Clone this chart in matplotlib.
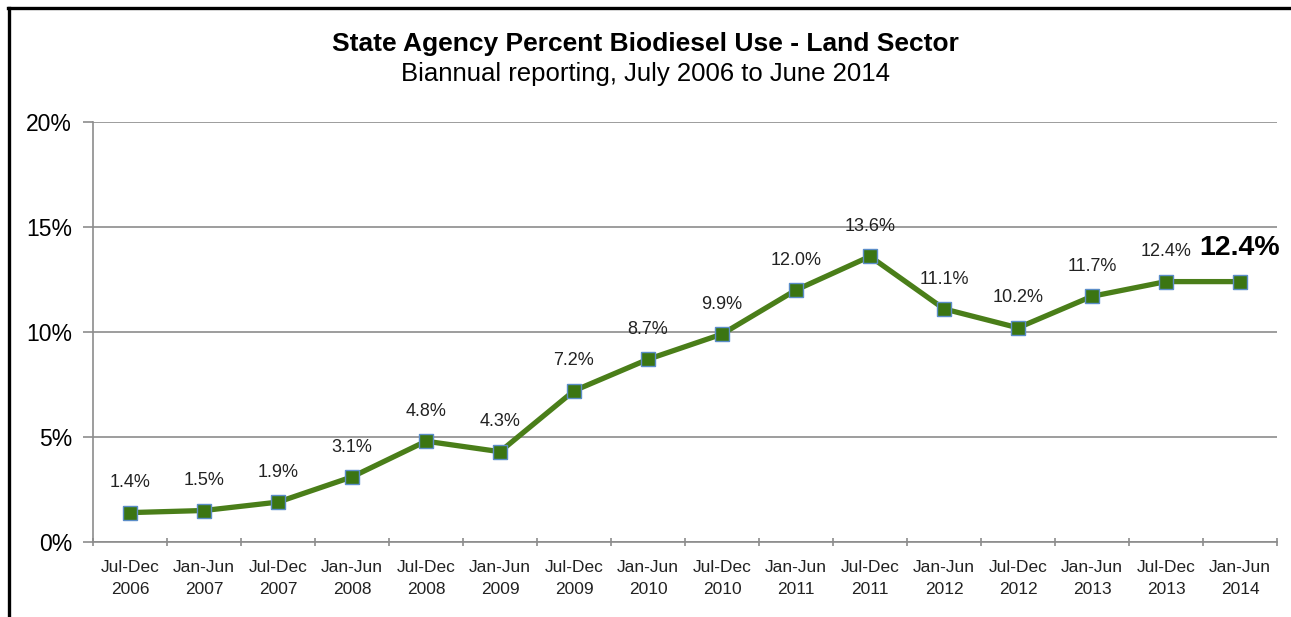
import matplotlib
matplotlib.use("Agg")
import matplotlib.pyplot as plt
from matplotlib import font_manager as fm
from matplotlib.ticker import FixedLocator, FuncFormatter

categories = ["Jul-Dec\n2006", "Jan-Jun\n2007", "Jul-Dec\n2007", "Jan-Jun\n2008",
              "Jul-Dec\n2008", "Jan-Jun\n2009", "Jul-Dec\n2009", "Jan-Jun\n2010",
              "Jul-Dec\n2010", "Jan-Jun\n2011", "Jul-Dec\n2011", "Jan-Jun\n2012",
              "Jul-Dec\n2012", "Jan-Jun\n2013", "Jul-Dec\n2013", "Jan-Jun\n2014"]
values = [1.4, 1.5, 1.9, 3.1, 4.8, 4.3, 7.2, 8.7, 9.9, 12.0, 13.6, 11.1, 10.2, 11.7, 12.4, 12.4]
yticks = [0, 5, 10, 15, 20]

names = {f.name for f in fm.fontManager.ttflist}
narrow = "Liberation Sans Narrow" if "Liberation Sans Narrow" in names else "Liberation Sans"
base = "Liberation Sans"

fig = plt.figure(figsize=(12.91, 6.17), dpi=100)
ax = fig.add_axes([93/1291, 75/617, (1277-93)/1291, (542-122)/617])

x = list(range(len(values)))
ax.plot(x, values, color="#4A7E19", lw=3.8, marker="s", markersize=10,
        markerfacecolor="#3B7512", markeredgecolor="#5B8DC8", markeredgewidth=1.0,
        zorder=3, clip_on=False)

for i, v in enumerate(values[:-1]):
    ax.annotate(f"{v:.1f}%", (i, v), xytext=(0, 21.5), textcoords="offset points",
                ha="center", va="center", fontsize=13, family=narrow, color="#222222")
ax.annotate(f"{values[-1]:.1f}%", (len(values)-1, values[-1]), xytext=(0, 24.5),
            textcoords="offset points", ha="center", va="center", fontsize=20.5,
            fontweight="bold", family=base, color="black")

ax.set_xlim(-0.5, len(values)-0.5)
ax.set_ylim(0, 20)
ax.yaxis.set_major_locator(FixedLocator(yticks))
ax.yaxis.set_major_formatter(FuncFormatter(lambda v, p: f"{v:.0f}%"))
ax.grid(axis="y", color="#8C8C8C", lw=1.2)
ax.set_axisbelow(True)

ax.xaxis.set_major_locator(FixedLocator([i - 0.5 for i in range(len(values)+1)]))
ax.xaxis.set_major_formatter(FuncFormatter(lambda v, p: ""))
ax.xaxis.set_minor_locator(FixedLocator(x))
ax.set_xticklabels(categories, minor=True)
ax.tick_params(axis="x", which="minor", length=0, pad=13, labelsize=12.5, labelcolor="#222222")
for lab in ax.get_xticklabels(minor=True):
    lab.set_family(narrow)
    lab.set_linespacing(1.55)
ax.tick_params(axis="x", which="major", length=6, width=1.2, color="#8C8C8C", direction="inout")
ax.tick_params(axis="y", length=7, width=1.2, color="#8C8C8C", labelsize=16.5, pad=8)
for lab in ax.get_yticklabels():
    lab.set_family(base)

for s in ["top", "right"]:
    ax.spines[s].set_visible(False)
for s in ["left", "bottom"]:
    ax.spines[s].set_color("#8C8C8C")
    ax.spines[s].set_linewidth(1.2)

fig.text(0.5, 1 - 44/617, "State Agency Percent Biodiesel Use - Land Sector", ha="center", va="center",
         fontsize=19, fontweight="bold", family=base)
fig.text(0.5, 1 - 74/617, "Biannual reporting, July 2006 to June 2014", ha="center", va="center",
         fontsize=18.5, family=base)

# outer frame (left and top edges visible)
fig.add_artist(plt.Line2D([8.5/1291, 8.5/1291], [0, 1 - 8/617], transform=fig.transFigure, color="black", lw=2.4))
fig.add_artist(plt.Line2D([7.5/1291, 1], [1 - 8/617, 1 - 8/617], transform=fig.transFigure, color="black", lw=2.4))

fig.savefig("out.png", dpi=100)
